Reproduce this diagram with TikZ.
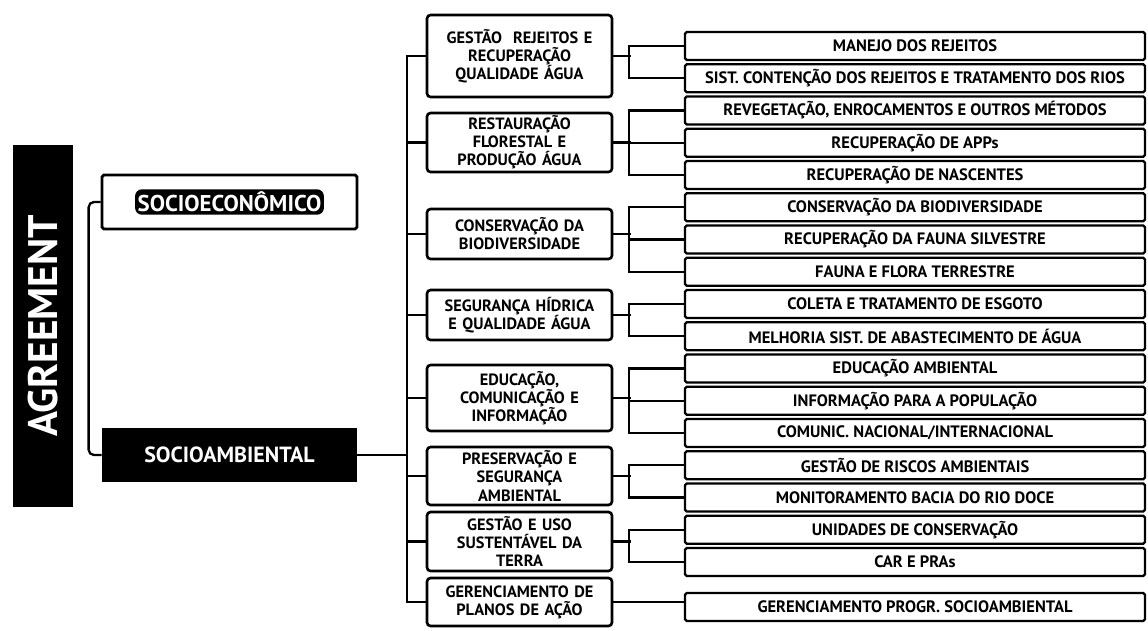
\documentclass[tikz,border=0pt]{standalone}
\usepackage{fontspec}
\setmainfont{PT Sans}
\usetikzlibrary{positioning,calc}

\begin{document}
\begin{tikzpicture}[
    x=0.02cm, y=-0.02cm,
    every node/.style={font=\bfseries\fontsize{9.4}{11}\selectfont},
    agreebox/.style={rectangle, fill=black, text=white, rotate=90, minimum width=7.24cm,
                minimum height=1.2cm, inner sep=0pt, font=\bfseries\fontsize{23.5}{28}\selectfont},
    secobox/.style={rectangle, draw=black, fill=white, minimum width=5.1cm, minimum height=1.08cm,
                line width=1.6pt, rounded corners=1pt},
    pill/.style={rectangle, fill=black, text=white, rounded corners=4pt, inner sep=1.5pt,
                font=\bfseries\fontsize{13}{15}\selectfont},
    sambbox/.style={rectangle, fill=black, text=white, minimum width=5.1cm, minimum height=1.08cm,
                font=\bfseries\fontsize{12.5}{15}\selectfont},
    mid/.style={rectangle, draw=black, fill=white, minimum width=3.7cm, text width=3.5cm, align=center,
                rounded corners=2pt, line width=1.5pt, inner sep=1pt, font=\bfseries\fontsize{9.3}{10.3}\selectfont},
    leaf/.style={rectangle, draw=black, fill=white, minimum width=9.2cm, minimum height=0.56cm,
                inner sep=0pt, rounded corners=1pt, line width=1.3pt},
    link/.style={line width=1.3pt, black}
]
\useasboundingbox (0,0) rectangle (1148,630);
% Coluna esquerda
\node[agreebox] (agree) at (43,326) {AGREEMENT};
\node[secobox] (seco) at (229.5,202) {};
\node[pill] (secotxt) at (seco) {SOCIOECONÔMICO};
\node[sambbox] (samb) at (229.5,455) {SOCIOAMBIENTAL};
% Coluna do meio
\node[mid, minimum height=1.64cm] (m1) at (519.5,56) {GESTÃO\ \ REJEITOS E\\RECUPERAÇÃO\\QUALIDADE ÁGUA};
\node[mid, minimum height=1.18cm] (m2) at (519.5,142.5) {RESTAURAÇÃO\\FLORESTAL E\\PRODUÇÃO ÁGUA};
\node[mid, minimum height=1.0cm] (m3) at (519.5,234) {CONSERVAÇÃO DA\\BIODIVERSIDADE};
\node[mid, minimum height=1.0cm] (m4) at (519.5,315) {SEGURANÇA HÍDRICA\\E QUALIDADE ÁGUA};
\node[mid, minimum height=1.32cm] (m5) at (519.5,398) {EDUCAÇÃO,\\COMUNICAÇÃO E\\INFORMAÇÃO};
\node[mid, minimum height=1.16cm] (m6) at (519.5,476) {PRESERVAÇÃO E\\SEGURANÇA\\AMBIENTAL};
\node[mid, minimum height=1.18cm] (m7) at (519.5,541.5) {GESTÃO E USO\\SUSTENTÁVEL DA\\TERRA};
\node[mid, minimum height=0.96cm] (m8) at (519.5,602) {GERENCIAMENTO DE\\PLANOS DE AÇÃO};
% Coluna direita
\node[leaf] (r1) at (915,46) {MANEJO DOS REJEITOS};
\node[leaf] (r2) at (915,78.25) {SIST. CONTENÇÃO DOS REJEITOS E TRATAMENTO DOS RIOS};
\node[leaf] (r3) at (915,110.5) {REVEGETAÇÃO, ENROCAMENTOS E OUTROS MÉTODOS};
\node[leaf] (r4) at (915,142.75) {RECUPERAÇÃO DE APPs};
\node[leaf] (r5) at (915,175) {RECUPERAÇÃO DE NASCENTES};
\node[leaf] (r6) at (915,207.25) {CONSERVAÇÃO DA BIODIVERSIDADE};
\node[leaf] (r7) at (915,239.5) {RECUPERAÇÃO DA FAUNA SILVESTRE};
\node[leaf] (r8) at (915,271.75) {FAUNA E FLORA TERRESTRE};
\node[leaf] (r9) at (915,304) {COLETA E TRATAMENTO DE ESGOTO};
\node[leaf] (r10) at (915,336.25) {MELHORIA SIST. DE ABASTECIMENTO DE ÁGUA};
\node[leaf] (r11) at (915,368.5) {EDUCAÇÃO AMBIENTAL};
\node[leaf] (r12) at (915,400.75) {INFORMAÇÃO PARA A POPULAÇÃO};
\node[leaf] (r13) at (915,433) {COMUNIC. NACIONAL/INTERNACIONAL};
\node[leaf] (r14) at (915,465.25) {GESTÃO DE RISCOS AMBIENTAIS};
\node[leaf] (r15) at (915,497.5) {MONITORAMENTO BACIA DO RIO DOCE};
\node[leaf] (r16) at (915,529.75) {UNIDADES DE CONSERVAÇÃO};
\node[leaf] (r17) at (915,562) {CAR E PRAs};
\node[leaf] (r18) at (915,607) {GERENCIAMENTO PROGR. SOCIOAMBIENTAL};
% Ligações esquerda
\draw[link, rounded corners=3pt] (seco.west) -- ++(-12,0) |- (samb.west);
\draw[link] (samb.east) -- ++(51,0);
\draw[link] (m1.west) -- ++(-19,0) |- (m8.west);
\draw[link] (m2.west) -- ++(-19,0);
\draw[link] (m3.west) -- ++(-19,0);
\draw[link] (m4.west) -- ++(-19,0);
\draw[link] (m5.west) -- ++(-19,0);
\draw[link] (m6.west) -- ++(-19,0);
\draw[link] (m7.west) -- ++(-19,0);
% Ligações direita
\draw[link] (m1.east) -- ++(18,0);
\draw[link] (r1.west) -- ++(-55,0) |- (r2.west);
\draw[link] (m2.east) -- ++(18,0);
\draw[link] (r3.west) -- ++(-55,0) |- (r5.west);
\draw[link] (r4.west) -- ++(-55,0);
\draw[link] (m3.east) -- ++(18,0);
\draw[link] (r6.west) -- ++(-55,0) |- (r8.west);
\draw[link] (r7.west) -- ++(-55,0);
\draw[link] (m4.east) -- ++(18,0);
\draw[link] (r9.west) -- ++(-55,0) |- (r10.west);
\draw[link] (m5.east) -- ++(18,0);
\draw[link] (r11.west) -- ++(-55,0) |- (r13.west);
\draw[link] (r12.west) -- ++(-55,0);
\draw[link] (m6.east) -- ++(18,0);
\draw[link] (r14.west) -- ++(-55,0) |- (r15.west);
\draw[link] (m7.east) -- ++(18,0);
\draw[link] (r16.west) -- ++(-55,0) |- (r17.west);
\draw[link] (m8.east) -- (m8.east -| r18.west);
\end{tikzpicture}
\end{document}
